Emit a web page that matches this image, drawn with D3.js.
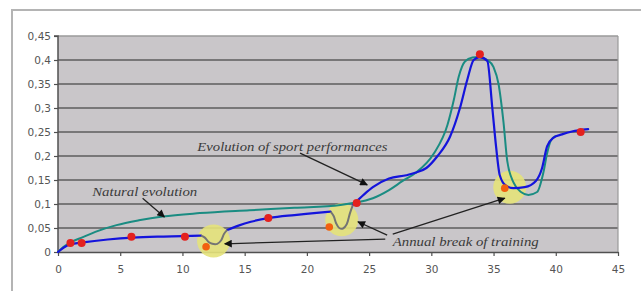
<!DOCTYPE html>
<html>
<head>
<meta charset="utf-8">
<script src="https://cdn.jsdelivr.net/npm/d3@7"></script>
<style>
  body { margin: 0; background: #fff; }
  svg { display: block; }
</style>
</head>
<body>
<svg id="chart" width="641" height="291"></svg>
<script>
// --- data ---
const xTicks = [0, 5, 10, 15, 20, 25, 30, 35, 40, 45];
const yTicks = [0, 0.05, 0.1, 0.15, 0.2, 0.25, 0.3, 0.35, 0.4, 0.45];

// evolution of sport performances (blue), split around the breaks
const perfSeg1 = [[0,0],[0.5,0.01],[1,0.016],[2,0.02],[4,0.026],[6,0.03],[8,0.032],[10,0.033],[11.5,0.034]];
const perfSeg2 = [[13.6,0.046],[14.5,0.055],[15.5,0.063],[17,0.071],[19,0.077],[21,0.082],[21.9,0.084]];
const perfSeg3 = [[23.7,0.098],[24.6,0.12],[25.3,0.135],[26.6,0.153],[28,0.16],[28.7,0.165],[29.6,0.175],
  [30.5,0.2],[31.5,0.24],[32.3,0.3],[32.9,0.36],[33.4,0.4],[33.9,0.406],[34.5,0.398],[34.9,0.3],
  [35.2,0.22],[35.5,0.16],[36,0.138],[36.6,0.133],[37.5,0.135],[38.4,0.148],[38.9,0.175],
  [39.3,0.22],[39.8,0.238],[40.5,0.245],[41.3,0.251],[42.6,0.256]];

// annual breaks of training (grey dips)
const breakDip1 = [[11.5,0.034],[11.8,0.03],[12.1,0.021],[12.4,0.017],[12.8,0.017],[13.1,0.024],[13.35,0.038],[13.6,0.046]];
const breakDip2 = [[21.9,0.084],[22.15,0.075],[22.35,0.06],[22.6,0.05],[22.9,0.049],[23.2,0.058],[23.45,0.08],[23.7,0.098]];

// natural evolution (teal)
const natural = [[0,0],[0.4,0.01],[1,0.02],[2,0.031],[3,0.042],[4.7,0.056],[6.5,0.066],[8.4,0.074],
  [11.4,0.081],[15.4,0.087],[19,0.092],[22.7,0.098],[23.7,0.102],[25.3,0.112],[26.6,0.129],
  [27.7,0.148],[28.7,0.164],[30.2,0.205],[31.3,0.265],[31.8,0.316],[32.2,0.365],[32.7,0.397],
  [33.3,0.405],[33.8,0.406],[34.5,0.4],[35,0.385],[35.4,0.35],[35.8,0.27],[36.1,0.19],
  [36.6,0.145],[37.2,0.125],[37.8,0.119],[38.5,0.125],[39,0.165],[39.3,0.205],[39.6,0.232],[40,0.242]];

const redPoints = [[1,0.019],[1.9,0.019],[5.9,0.032],[10.2,0.032],[16.9,0.071],[24,0.102],[33.9,0.412],[42,0.25]];
const orangePoints = [[11.9,0.011],[21.8,0.052],[35.9,0.133]];
const highlights = [[12.5,0.023],[22.8,0.067],[36.3,0.135]];

const labels = [
  { text: "Natural evolution", x: 2.75, y: 0.117, w: 105 },
  { text: "Evolution of sport performances", x: 11.2, y: 0.21, w: 190 },
  { text: "Annual break of training", x: 26.9, y: 0.013, w: 146 }
];
// arrows: [tailX, tailY, tipX, tipY]
const arrows = [
  [6.8, 0.112, 8.55, 0.073],
  [19.45, 0.206, 24.85, 0.14],
  [26.3, 0.027, 13.4, 0.017],
  [26.45, 0.035, 24.1, 0.063],
  [26.9, 0.037, 35.9, 0.112]
];

const margin = { top: 36, right: 23, bottom: 39, left: 58 };
const svg = d3.select("#chart");
const width = 641 - margin.left - margin.right,
  height = 291 - margin.top - margin.bottom;

// outer frame
svg.append("path")
  .attr("d", "M12,291V10H641")
  .attr("fill", "none").attr("stroke", "#b4b4b4").attr("stroke-width", 2);

const g = svg.append("g").attr("transform", "translate(" + margin.left + "," + margin.top + ")");

const x = d3.scaleLinear().domain([0, 45]).range([0, width]);
const y = d3.scaleLinear().domain([0, 0.45]).range([height, 0]);

g.append("rect").attr("width", width).attr("height", height).attr("fill", "#c9c6c9");

// arrowhead
svg.append("defs").append("marker")
  .attr("id", "head").attr("viewBox", "0 0 10 10").attr("refX", 9).attr("refY", 5)
  .attr("markerWidth", 7).attr("markerHeight", 6).attr("orient", "auto")
  .append("path").attr("d", "M0,0L10,5L0,10z").attr("fill", "#111");

// gridlines
g.selectAll(".grid").data(yTicks.filter(d => d > 0)).enter().append("line")
  .attr("x1", 0).attr("x2", width)
  .attr("y1", d => y(d)).attr("y2", d => y(d))
  .attr("stroke", d => d === 0.45 ? "#9a9a9a" : "#5c5c5c")
  .attr("stroke-width", 1.5);

g.append("line").attr("x1", width).attr("x2", width).attr("y1", 0).attr("y2", height)
  .attr("stroke", "#9a9a9a").attr("stroke-width", 1.2);

// axes
const fmt = d => String(d).replace(".", ",");
const yAxis = g.append("g").call(d3.axisLeft(y).tickValues(yTicks).tickFormat(fmt).tickSize(4).tickPadding(3));
const xAxis = g.append("g").attr("transform", "translate(0," + height + ")")
  .call(d3.axisBottom(x).tickValues(xTicks).tickSize(4).tickPadding(10).tickSizeOuter(0));
[yAxis, xAxis].forEach(a => {
  a.select(".domain").attr("stroke", "#505050").attr("stroke-width", 1.5);
  a.selectAll(".tick line").attr("stroke", "#505050").attr("stroke-width", 1.2);
  a.selectAll("text").attr("fill", "#555").attr("font-family", "DejaVu Sans, sans-serif").attr("font-size", 10.5);
});
yAxis.select(".domain").attr("d", "M-4,0H0V" + height);

// yellow highlight circles
g.selectAll(".hl").data(highlights).enter().append("circle")
  .attr("cx", d => x(d[0])).attr("cy", d => y(d[1])).attr("r", 16.5)
  .attr("fill", "#e4e27a").attr("opacity", 0.9);

const line = d3.line().x(d => x(d[0])).y(d => y(d[1])).curve(d3.curveMonotoneX);
const dipLine = d3.line().x(d => x(d[0])).y(d => y(d[1])).curve(d3.curveCatmullRom.alpha(0.5));

g.append("path").datum(natural).attr("d", line)
  .attr("fill", "none").attr("stroke", "#1a8c82").attr("stroke-width", 2);

[perfSeg1, perfSeg2, perfSeg3].forEach(s => {
  g.append("path").datum(s).attr("d", line)
    .attr("fill", "none").attr("stroke", "#1414dc").attr("stroke-width", 2.2).attr("stroke-linecap", "round");
});
[breakDip1, breakDip2].forEach(s => {
  g.append("path").datum(s).attr("d", dipLine)
    .attr("fill", "none").attr("stroke", "#747474").attr("stroke-width", 2);
});

g.selectAll(".red").data(redPoints).enter().append("circle")
  .attr("cx", d => x(d[0])).attr("cy", d => y(d[1])).attr("r", 4)
  .attr("fill", "#e4211f");
g.selectAll(".orange").data(orangePoints).enter().append("circle")
  .attr("cx", d => x(d[0])).attr("cy", d => y(d[1])).attr("r", 3.8)
  .attr("fill", "#f2600f");

// annotations
g.selectAll(".arrow").data(arrows).enter().append("line")
  .attr("x1", d => x(d[0])).attr("y1", d => y(d[1]))
  .attr("x2", d => x(d[2])).attr("y2", d => y(d[3]))
  .attr("stroke", "#222").attr("stroke-width", 1.3)
  .attr("marker-end", "url(#head)");

g.selectAll(".lbl").data(labels).enter().append("text")
  .attr("x", d => x(d.x)).attr("y", d => y(d.y))
  .attr("textLength", d => d.w).attr("lengthAdjust", "spacingAndGlyphs")
  .attr("font-family", "Liberation Serif, serif").attr("font-style", "italic")
  .attr("font-size", 13.5).attr("fill", "#3a3a3a")
  .text(d => d.text);
</script>
</body>
</html>
